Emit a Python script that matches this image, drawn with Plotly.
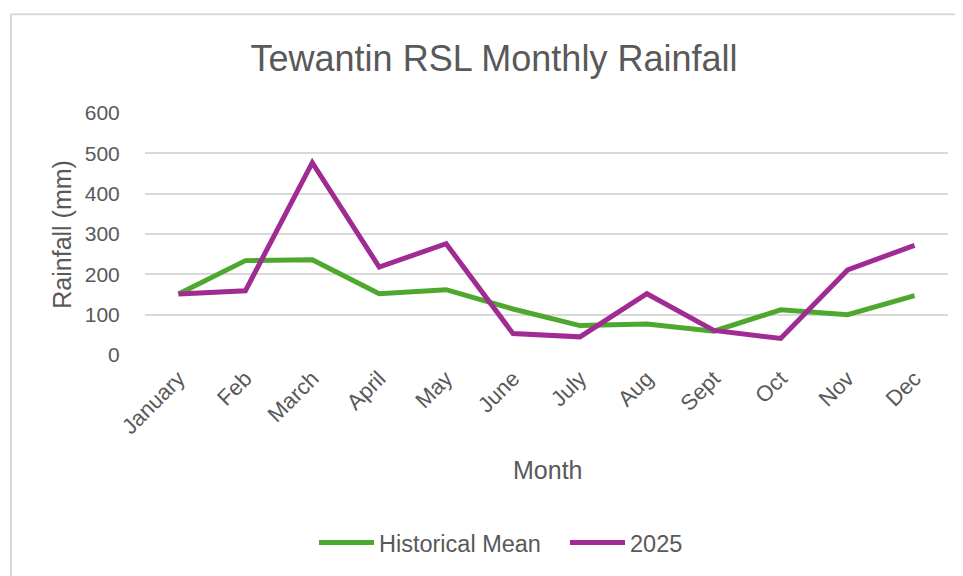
import plotly.graph_objects as go

months = ["January", "Feb", "March", "April", "May", "June", "July", "Aug", "Sept", "Oct", "Nov", "Dec"]
historical_mean = [151, 234, 236, 152, 162, 114, 73, 77, 59, 112, 100, 147]
rain_2025 = [151, 159, 477, 218, 276, 53, 45, 152, 61, 41, 211, 272]
y_ticks = [0, 100, 200, 300, 400, 500, 600]

OFF = 8  # page body margin
W, H = 963 - OFF, 576 - OFF
# reference page coordinates of the plot area
PL, PR, PT, PB = 145, 948, 113.3, 355.3
L, T = PL - OFF, PT - OFF
R = W - (PR - OFF)
B = H - (PB - OFF)
pw, ph = PR - PL, PB - PT

def px2x(px):
    return (px - PL) / pw

def py2y(py):
    return (PB - py) / ph

text_color = "#595959"
grid_color = "#D9D9D9"

fig = go.Figure()
fig.add_trace(go.Scatter(x=months, y=historical_mean, mode="lines", name="Historical Mean",
                         line=dict(color="#4EA72E", width=5)))
fig.add_trace(go.Scatter(x=months, y=rain_2025, mode="lines", name="2025",
                         line=dict(color="#A02B93", width=5)))

fig.update_layout(
    width=W, height=H,
    margin=dict(l=L, r=R, t=T, b=B, autoexpand=False),
    paper_bgcolor="white", plot_bgcolor="white",
    font=dict(family="Liberation Sans, Arial, sans-serif", color=text_color),
    title=dict(text="Tewantin RSL Monthly Rainfall", x=px2x(494), xref="paper", xanchor="center",
               y=1 - (58 - OFF) / H, yanchor="middle",
               font=dict(size=36, color=text_color)),
    showlegend=True,
    legend=dict(orientation="h", x=px2x(314), xanchor="left", y=py2y(543), yanchor="middle",
                font=dict(size=23.5, color=text_color), bgcolor="rgba(0,0,0,0)",
                itemwidth=55, tracegroupgap=0, entrywidth=181, entrywidthmode="pixels"),
    xaxis=dict(type="category", range=[-0.5, 11.5], showgrid=False, zeroline=False, showline=False,
               tickangle=-45, tickfont=dict(size=22, color=text_color),
               ticks="outside", ticklen=1, tickcolor="rgba(0,0,0,0)"),
    yaxis=dict(range=[0, 600], tickvals=y_ticks, showgrid=True, gridcolor=grid_color, gridwidth=1.5,
               zeroline=False, showline=False, tickfont=dict(size=21, color=text_color),
               ticks="outside", ticklen=20, tickcolor="rgba(0,0,0,0)"),
    annotations=[
        dict(text="Month", x=px2x(547), y=py2y(470), xref="paper", yref="paper",
             showarrow=False, xanchor="center", yanchor="middle",
             font=dict(size=25, color=text_color)),
        dict(text="Rainfall (mm)", x=px2x(62), y=py2y(235), xref="paper", yref="paper",
             showarrow=False, xanchor="center", yanchor="middle", textangle=-90,
             font=dict(size=25, color=text_color)),
    ],
    shapes=[
        dict(type="line", xref="paper", yref="paper", x0=px2x(11), x1=px2x(11),
             y0=py2y(14.5), y1=py2y(600), line=dict(color=grid_color, width=2)),
        dict(type="line", xref="paper", yref="paper", x0=px2x(11), x1=px2x(990),
             y0=py2y(14.5), y1=py2y(14.5), line=dict(color=grid_color, width=2)),
    ],
)

fig.write_html("out.html")
